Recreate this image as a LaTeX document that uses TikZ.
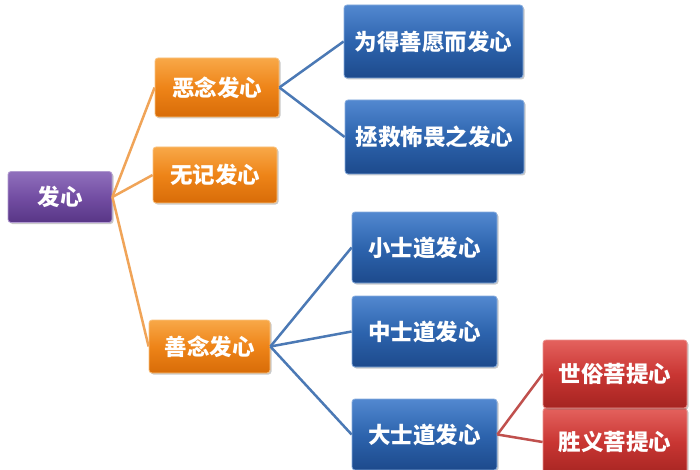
\documentclass[tikz,border=0pt]{standalone}
\usepackage{fontspec}
\setmainfont{Noto Sans CJK SC}
\usetikzlibrary{shadows}
\definecolor{orgT}{HTML}{F8A848}
\definecolor{orgM}{HTML}{EE8418}
\definecolor{orgB}{HTML}{D86C08}
\definecolor{purT}{HTML}{9070BC}
\definecolor{purM}{HTML}{734EA3}
\definecolor{purB}{HTML}{583686}
\definecolor{bluT}{HTML}{5288D0}
\definecolor{bluM}{HTML}{2D64AE}
\definecolor{bluB}{HTML}{1D4A8C}
\definecolor{redT}{HTML}{E4625E}
\definecolor{redM}{HTML}{C93633}
\definecolor{redB}{HTML}{A52421}
\definecolor{lnOrg}{HTML}{F0A458}
\definecolor{lnBlu}{HTML}{4B79B5}
\definecolor{lnRed}{HTML}{C0504D}
\tikzset{
  box/.style={rectangle, rounded corners=3pt, text=white, font=\fontsize{22.5}{26}\selectfont\bfseries,
    inner sep=0pt, drop shadow={shadow xshift=1.5pt, shadow yshift=-1.5pt, opacity=0.35, fill=black!60}},
  obox/.style={box, draw=orgT!70!white, line width=0.8pt, top color=orgT, bottom color=orgB, middle color=orgM},
  pbox/.style={box, draw=purT!70!white, line width=0.8pt, top color=purT, bottom color=purB, middle color=purM},
  bbox/.style={box, draw=bluT!70!white, line width=0.8pt, top color=bluT, bottom color=bluB, middle color=bluM},
  rbox/.style={box, draw=redT!70!white, line width=0.8pt, top color=redT, bottom color=redB, middle color=redM},
  olink/.style={draw=lnOrg, line width=2.5pt},
  blink/.style={draw=lnBlu, line width=2.5pt},
  rlink/.style={draw=lnRed, line width=2.5pt},
}
\begin{document}
\begin{tikzpicture}[x=1pt,y=-1pt]
\fill[white] (0,0) rectangle (700,470);
\useasboundingbox (0,0) rectangle (700,470);
\begin{scope}
\clip (0,0) rectangle (700,470);
\node[pbox, minimum width=104pt, minimum height=51pt] (root) at (60,197) {发心};
\node[obox, minimum width=124pt, minimum height=59pt] (e) at (217,87.5) {恶念发心};
\node[obox, minimum width=124pt, minimum height=56pt] (w) at (215,175) {无记发心};
\node[obox, minimum width=121pt, minimum height=53pt] (s) at (209.5,346.5) {善念发心};
\node[bbox, minimum width=179pt, minimum height=73pt] (e1) at (433.5,41.5) {为得善愿而发心};
\node[bbox, minimum width=179pt, minimum height=74pt] (e2) at (434.5,137) {拯救怖畏之发心};
\node[bbox, minimum width=145pt, minimum height=71pt] (s1) at (424.5,247.5) {小士道发心};
\node[bbox, minimum width=145pt, minimum height=71pt] (s2) at (424.5,331.5) {中士道发心};
\node[bbox, minimum width=145pt, minimum height=71pt] (s3) at (424.5,434.5) {大士道发心};
\node[rbox, minimum width=144pt, minimum height=68pt] (r2) at (615,442) {胜义菩提心};
\node[rbox, minimum width=144pt, minimum height=68pt] (r1) at (615,374) {世俗菩提心};
\draw[olink] (root.east) -- (e.west);
\draw[olink] (root.east) -- (w.west);
\draw[olink] (root.east) -- (s.west);
\draw[blink] (e.east) -- (e1.west);
\draw[blink] (e.east) -- (e2.west);
\draw[blink] (s.east) -- (s1.west);
\draw[blink] (s.east) -- (s2.west);
\draw[blink] (s.east) -- (s3.west);
\draw[rlink] (s3.east) -- (r1.west);
\draw[rlink] (s3.east) -- (r2.west);
\end{scope}
\end{tikzpicture}
\end{document}
